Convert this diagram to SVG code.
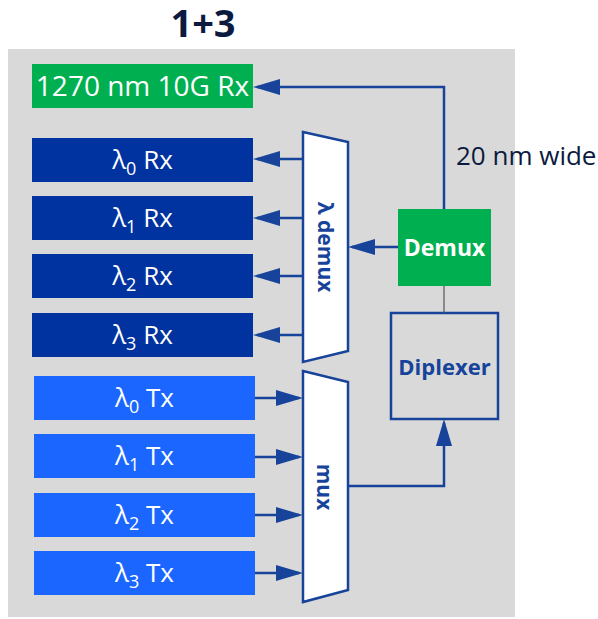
<svg xmlns="http://www.w3.org/2000/svg" width="598" height="619" viewBox="0 0 598 619">
<style>
.lbl{font-family:"Open Sans","Noto Sans",sans-serif;fill:#fff;text-anchor:middle}
.blue{font-family:"Open Sans","Noto Sans",sans-serif;fill:#17449a;font-weight:bold;text-anchor:middle}
.rx{fill:#0033a0}
.tx{fill:#1a66ff}
.grn{fill:#00b050}
.trap{fill:#fff;stroke:#17449a;stroke-width:2.5}
.c{fill:none;stroke:#17449a;stroke-width:2.5}
</style>
<defs>
<marker id="ah" markerUnits="userSpaceOnUse" markerWidth="27" markerHeight="16" refX="23" refY="8" orient="auto">
<path d="M0,0 L27,8 L0,16 z" fill="#17449a"/>
</marker>
</defs>
<rect x="8" y="49" width="507" height="568" fill="#d9d9d9"/>
<text x="203" y="37" font-family="'Open Sans',sans-serif" font-weight="bold" font-size="38" fill="#0c1a40" text-anchor="middle">1+3</text>
<text x="456" y="165" font-family="'Open Sans',sans-serif" font-size="26" fill="#0c1a40">20 nm wide</text>

<g id="rx1270"><rect class="grn" x="32" y="64" width="221" height="44"/><text class="lbl" x="142.5" y="96" font-size="28">1270 nm 10G Rx</text></g>
<g id="rx0"><rect class="rx" x="32" y="138" width="221" height="44"/><text class="lbl" x="142.5" y="169" font-size="26">λ<tspan font-size="18" dy="6">0</tspan><tspan dy="-6"> Rx</tspan></text></g>
<g id="rx1"><rect class="rx" x="32" y="196" width="221" height="44"/><text class="lbl" x="142.5" y="227" font-size="26">λ<tspan font-size="18" dy="6">1</tspan><tspan dy="-6"> Rx</tspan></text></g>
<g id="rx2"><rect class="rx" x="32" y="254" width="221" height="44"/><text class="lbl" x="142.5" y="285" font-size="26">λ<tspan font-size="18" dy="6">2</tspan><tspan dy="-6"> Rx</tspan></text></g>
<g id="rx3"><rect class="rx" x="32" y="313" width="221" height="44"/><text class="lbl" x="142.5" y="344" font-size="26">λ<tspan font-size="18" dy="6">3</tspan><tspan dy="-6"> Rx</tspan></text></g>

<g id="tx0"><rect class="tx" x="34" y="376" width="221" height="44"/><text class="lbl" x="144.5" y="407" font-size="26">λ<tspan font-size="18" dy="6">0</tspan><tspan dy="-6"> Tx</tspan></text></g>
<g id="tx1"><rect class="tx" x="34" y="434" width="221" height="44"/><text class="lbl" x="144.5" y="465" font-size="26">λ<tspan font-size="18" dy="6">1</tspan><tspan dy="-6"> Tx</tspan></text></g>
<g id="tx2"><rect class="tx" x="34" y="493" width="221" height="44"/><text class="lbl" x="144.5" y="524" font-size="26">λ<tspan font-size="18" dy="6">2</tspan><tspan dy="-6"> Tx</tspan></text></g>
<g id="tx3"><rect class="tx" x="34" y="551" width="221" height="44"/><text class="lbl" x="144.5" y="582" font-size="26">λ<tspan font-size="18" dy="6">3</tspan><tspan dy="-6"> Tx</tspan></text></g>

<g id="ldemux"><polygon class="trap" points="303,132 348,142 348,351 303,362"/><text class="blue" font-size="21" transform="translate(325,247) rotate(90)" y="7">λ demux</text></g>
<g id="mux"><polygon class="trap" points="303,371 348,382 348,590 303,602"/><text class="blue" font-size="21" transform="translate(324,487) rotate(90)" y="7">mux</text></g>
<g id="demux"><rect class="grn" x="398" y="209" width="93" height="77"/><text x="444.5" y="256" font-family="'Open Sans',sans-serif" font-weight="bold" font-size="23" fill="#fff" text-anchor="middle">Demux</text></g>
<g id="diplexer"><rect x="391" y="313" width="107" height="106" fill="none" stroke="#17449a" stroke-width="2.5"/><text class="blue" x="444.5" y="375" font-size="22">Diplexer</text></g>

<g id="connectors">
<path class="c" d="M444,209 V87 H257" marker-end="url(#ah)"/>
<path class="c" d="M398,247 H352" marker-end="url(#ah)"/>
<path class="c" d="M303,159 H257" marker-end="url(#ah)"/>
<path class="c" d="M303,218 H257" marker-end="url(#ah)"/>
<path class="c" d="M303,276 H257" marker-end="url(#ah)"/>
<path class="c" d="M303,335 H257" marker-end="url(#ah)"/>
<path class="c" d="M255,398 H299" marker-end="url(#ah)"/>
<path class="c" d="M255,457 H299" marker-end="url(#ah)"/>
<path class="c" d="M255,515 H299" marker-end="url(#ah)"/>
<path class="c" d="M255,573 H299" marker-end="url(#ah)"/>
<path class="c" d="M348,486 H444 V423" marker-end="url(#ah)"/>
<path d="M444,286 V313" stroke="#555" stroke-width="1.2" fill="none"/>
</g>
</svg>
